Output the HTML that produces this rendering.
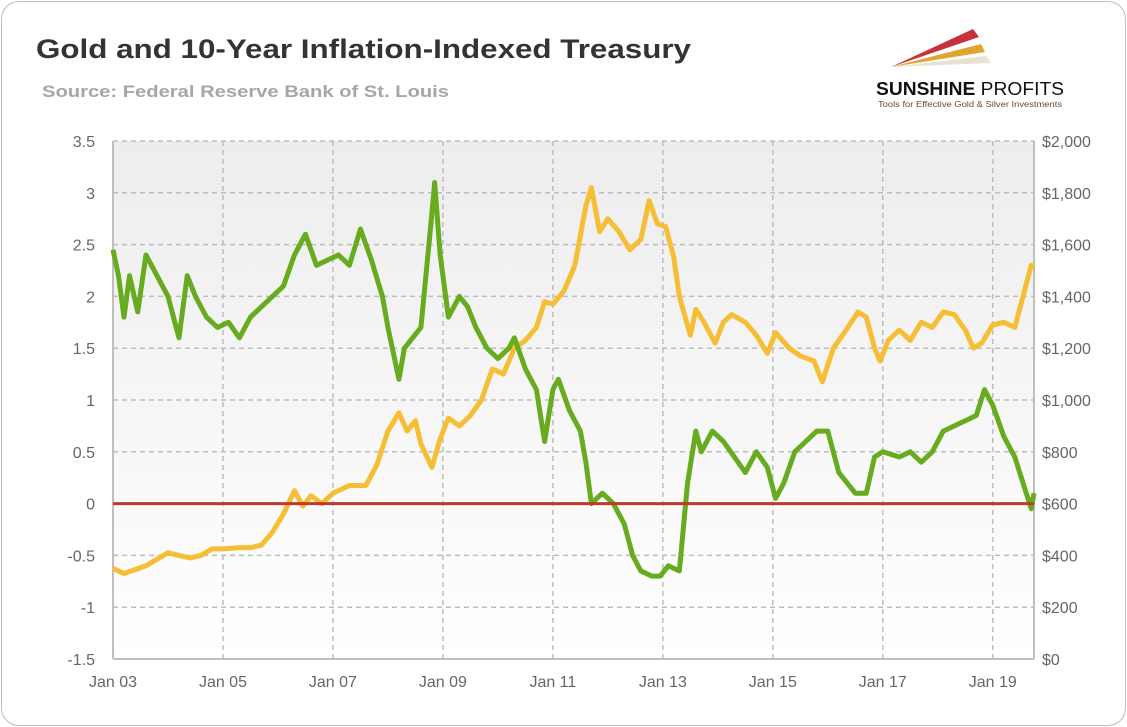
<!DOCTYPE html>
<html><head><meta charset="utf-8"><style>
body{margin:0;background:#fff;font-family:"Liberation Sans",sans-serif}
#card{position:absolute;left:1px;top:1px;width:1123px;height:723px;border:1px solid #bdbdbd;border-radius:18px;overflow:hidden}
</style></head><body>
<div id="card">
<svg width="1127" height="727" style="position:absolute;left:-1px;top:-1px">
<defs><linearGradient id="bg" x1="0" y1="0" x2="0" y2="1"><stop offset="0" stop-color="#ededed"/><stop offset="1" stop-color="#ffffff"/></linearGradient></defs>
<text x="35" y="57" font-size="27" font-weight="bold" fill="#333" textLength="655" lengthAdjust="spacingAndGlyphs">Gold and 10-Year Inflation-Indexed Treasury</text>
<text x="41" y="96" font-size="17" font-weight="bold" fill="#a6a6a6" textLength="407" lengthAdjust="spacingAndGlyphs">Source: Federal Reserve Bank of St. Louis</text>
<g>
<polygon points="890,66 972,28 978,36" fill="#c8303a"/>
<polygon points="890,66 980,43 984,51" fill="#e0a531"/>
<polygon points="890,66 985,55 990,62" fill="#e8e2cf"/>
<text x="875" y="94" font-size="18" font-weight="bold" fill="#111" textLength="188" lengthAdjust="spacingAndGlyphs">SUNSHINE <tspan font-weight="normal">PROFITS</tspan></text>
<text x="877" y="106" font-size="8.5" fill="#6b4a2a" textLength="184" lengthAdjust="spacingAndGlyphs">Tools for Effective Gold &amp; Silver Investments</text>
</g>
<rect x="112" y="140" width="921" height="518" fill="url(#bg)"/>
<g id="grid"></g><g id="axes"></g><g id="series"></g>
</svg></div>
<script>
const tipsT=[2003.0,2003.1,2003.2,2003.3,2003.45,2003.6,2003.8,2004.0,2004.2,2004.35,2004.5,2004.7,2004.9,2005.1,2005.3,2005.5,2005.7,2005.9,2006.1,2006.3,2006.5,2006.7,2006.9,2007.1,2007.3,2007.5,2007.7,2007.9,2008.0,2008.2,2008.3,2008.45,2008.6,2008.8,2008.85,2008.95,2009.1,2009.3,2009.45,2009.6,2009.8,2010.0,2010.2,2010.3,2010.5,2010.7,2010.85,2011.0,2011.1,2011.3,2011.5,2011.6,2011.7,2011.9,2012.1,2012.3,2012.45,2012.6,2012.8,2012.95,2013.1,2013.3,2013.45,2013.6,2013.7,2013.9,2014.1,2014.3,2014.5,2014.7,2014.9,2015.05,2015.2,2015.4,2015.6,2015.8,2016.0,2016.2,2016.5,2016.7,2016.85,2017.0,2017.3,2017.5,2017.7,2017.9,2018.1,2018.3,2018.5,2018.7,2018.85,2019.0,2019.2,2019.4,2019.55,2019.7,2019.75];
const tipsV=[2.45,2.2,1.8,2.2,1.85,2.4,2.2,2.0,1.6,2.2,2.0,1.8,1.7,1.75,1.6,1.8,1.9,2.0,2.1,2.4,2.6,2.3,2.35,2.4,2.3,2.65,2.35,2.0,1.7,1.2,1.5,1.6,1.7,2.8,3.1,2.4,1.8,2.0,1.9,1.7,1.5,1.4,1.5,1.6,1.3,1.1,0.6,1.1,1.2,0.9,0.7,0.4,0.0,0.1,0.0,-0.2,-0.5,-0.65,-0.7,-0.7,-0.6,-0.65,0.2,0.7,0.5,0.7,0.6,0.45,0.3,0.5,0.35,0.05,0.2,0.5,0.6,0.7,0.7,0.3,0.1,0.1,0.45,0.5,0.45,0.5,0.4,0.5,0.7,0.75,0.8,0.85,1.1,0.95,0.65,0.45,0.2,-0.05,0.1];
const goldT=[2003.0,2003.2,2003.4,2003.6,2003.8,2004.0,2004.2,2004.4,2004.6,2004.8,2005.0,2005.3,2005.5,2005.7,2005.9,2006.1,2006.3,2006.45,2006.6,2006.8,2007.0,2007.3,2007.6,2007.8,2008.0,2008.2,2008.35,2008.5,2008.6,2008.8,2008.95,2009.1,2009.3,2009.5,2009.7,2009.9,2010.1,2010.3,2010.5,2010.7,2010.85,2011.0,2011.2,2011.4,2011.6,2011.7,2011.85,2012.0,2012.2,2012.4,2012.6,2012.75,2012.9,2013.05,2013.2,2013.3,2013.5,2013.6,2013.75,2013.95,2014.1,2014.25,2014.5,2014.7,2014.9,2015.05,2015.3,2015.5,2015.75,2015.9,2016.1,2016.3,2016.55,2016.7,2016.85,2016.95,2017.1,2017.3,2017.5,2017.7,2017.9,2018.1,2018.3,2018.5,2018.65,2018.8,2019.0,2019.2,2019.4,2019.55,2019.7,2019.75];
const goldV=[350,330,345,360,385,410,400,390,400,425,425,430,430,440,490,560,650,590,630,600,640,670,670,750,880,950,880,920,830,740,850,930,900,940,1000,1120,1100,1200,1230,1280,1380,1370,1420,1520,1750,1820,1650,1700,1650,1580,1620,1770,1680,1670,1550,1400,1250,1350,1300,1220,1300,1330,1300,1250,1180,1260,1200,1170,1150,1070,1200,1260,1340,1320,1200,1150,1230,1270,1230,1300,1280,1340,1330,1270,1200,1220,1290,1300,1280,1400,1520,1510];
const leftTicks=[3.5,3,2.5,2,1.5,1,0.5,0,-0.5,-1,-1.5];
const rightTicks=[2000,1800,1600,1400,1200,1000,800,600,400,200,0];
const xTickYears=[2003,2005,2007,2009,2011,2013,2015,2017,2019];
const xTickLabels=["Jan 03","Jan 05","Jan 07","Jan 09","Jan 11","Jan 13","Jan 15","Jan 17","Jan 19"];

const NS="http://www.w3.org/2000/svg";
const X0=112,X1=1033,Y0=140,Y1=658;
const x=t=>X0+(t-2003)*(X1-X0)/(2019.75-2003);
const yL=v=>Y0+(3.5-v)*(Y1-Y0)/5;
const yR=v=>Y1-v*(Y1-Y0)/2000;
function mk(tag,attrs,parent){const e=document.createElementNS(NS,tag);for(const k in attrs)e.setAttribute(k,attrs[k]);parent.appendChild(e);return e;}
const grid=document.getElementById('grid'),axes=document.getElementById('axes'),ser=document.getElementById('series');
leftTicks.forEach((v,i)=>{
  const l=mk('line',{x1:X0,x2:X1,y1:yL(v),y2:yL(v),stroke:'#bdbdbd','stroke-width':1.5,'stroke-dasharray':'5,4'},grid);
  
  
  const t=mk('text',{x:94,y:yL(v)+6,'text-anchor':'end','font-size':16,fill:'#666'},axes);t.textContent=v;
  
  
  const r=mk('text',{x:1041,y:yR(rightTicks[i])+6,'font-size':16,fill:'#666'},axes);r.textContent='$'+rightTicks[i].toLocaleString('en-US');
  
  
});
xTickYears.forEach((yr,i)=>{
  if(i>0){const l=mk('line',{x1:x(yr),x2:x(yr),y1:Y0,y2:Y1,stroke:'#bdbdbd','stroke-width':1.5,'stroke-dasharray':'5,4'},grid);
  
  }
  const t=mk('text',{x:x(yr),y:Y1+28,'text-anchor':'middle','font-size':16,fill:'#666'},axes);t.textContent=xTickLabels[i];
  
  
});
const la=mk('line',{x1:X0,x2:X0,y1:Y0,y2:Y1,stroke:'#bfbfbf','stroke-width':2},axes);


const ra=mk('line',{x1:X1,x2:X1,y1:Y0,y2:Y1,stroke:'#bfbfbf','stroke-width':2},axes);


const ba=mk('line',{x1:X0,x2:X1,y1:Y1,y2:Y1,stroke:'#bfbfbf','stroke-width':2},axes);


const gp=mk('polyline',{points:goldT.map((t,i)=>x(t)+','+yR(goldV[i])).join(' '),fill:'none',stroke:'#f5be35','stroke-width':5,'stroke-linejoin':'round'},ser);


const tp=mk('polyline',{points:tipsT.map((t,i)=>x(t)+','+yL(tipsV[i])).join(' '),fill:'none',stroke:'#67ab1f','stroke-width':5,'stroke-linejoin':'round'},ser);


const zl=mk('line',{x1:X0,x2:X1,y1:yL(0),y2:yL(0),stroke:'#c0392b','stroke-width':3},ser);


</script>
</body></html>
